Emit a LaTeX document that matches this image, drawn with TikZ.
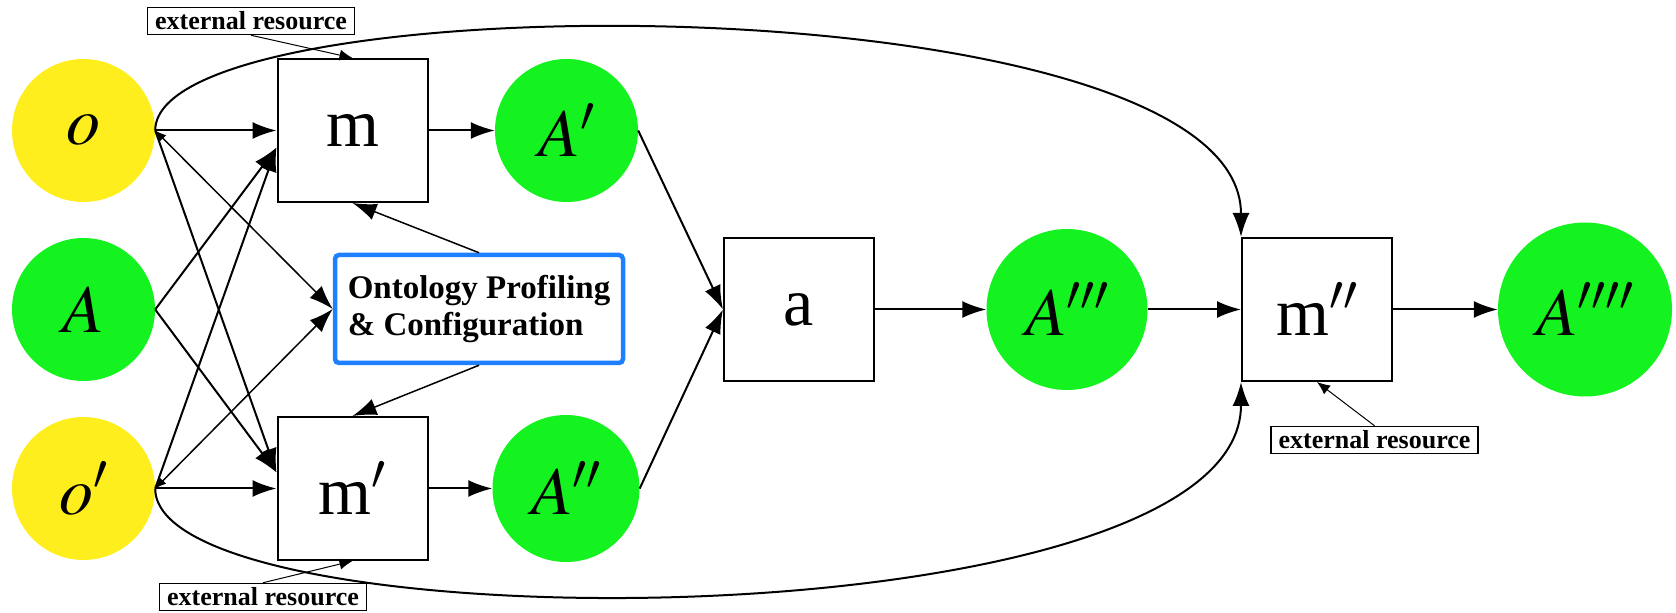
\documentclass[tikz,border=0pt]{standalone}
\usepackage{mathptmx}
\usepackage{fontspec}
\setmainfont{Liberation Serif}
\usetikzlibrary{arrows.meta}

\definecolor{oyellow}{RGB}{255,238,30}
\definecolor{agreen}{RGB}{20,242,32}
\definecolor{pblue}{RGB}{30,128,255}

\tikzset{
  ontol/.style={circle, inner sep=0pt, minimum size=143pt, font=\fontsize{68}{72}\selectfont},
  srcont/.style={ontol, fill=oyellow},
  algn/.style={ontol, fill=agreen},
  proc/.style={draw, line width=2pt, minimum width=150pt, minimum height=143pt, inner sep=0pt,
    font=\fontsize{68}{72}\selectfont},
  extres/.style={draw, line width=1.5pt, inner sep=1pt, minimum width=207pt, minimum height=27pt,
    font=\fontsize{26}{28}\selectfont\bfseries},
  profile/.style={draw=pblue, line width=4.5pt, rounded corners=4pt, minimum width=288pt,
    minimum height=108pt, inner sep=4pt, align=left, font=\fontsize{33}{37}\selectfont\bfseries},
  flow/.style={-{Latex[length=24pt,width=17pt]}, line width=2pt},
  mutual/.style={{Latex[length=11pt,width=9pt]}-{Latex[length=24pt,width=17pt]}, line width=1.5pt},
  reslink/.style={-{Latex[length=13pt,width=11pt]}, line width=1pt}
}

\begin{document}
\begin{tikzpicture}[x=1pt, y=1pt]
  \useasboundingbox (0,0) rectangle (1676,613);

  % Inputs
  \node[srcont] (o) at (83.5,482.5) {$o$};
  \node[algn] (A) at (83.5,303.5) {$A$};
  \node[srcont] (o2) at (83.5,124.5) {$o'$};

  % First matchers
  \node[proc] (m) at (352.5,482.5) {m};
  \node[proc] (m2) at (352.5,124.5) {m$'$};
  \node[profile] (prof) at (479,304) {Ontology Profiling\\\& Configuration};
  \node[algn] (A1) at (566.5,482.5) {$A'$};
  \node[algn, minimum size=147pt] (A2) at (566,124.5) {$A''$};

  % Aggregation, last matcher
  \node[proc] (agg) at (799,303.5) {a};
  \node[algn, minimum size=161pt] (A3) at (1067,303.5) {$A'''$};
  \node[proc] (m3) at (1317,303.5) {m$''$};
  \node[algn, minimum size=174pt] (A4) at (1585,303.5) {$A''''$};

  % External resources
  \node[extres] (ext1) at (251,592) {external resource};
  \node[extres] (ext2) at (263,16) {external resource};
  \node[extres] (ext3) at (1374.5,173) {external resource};

  \draw[flow] (o.east) -- (m.west);
  \draw[flow] (A.east) -- ([yshift=-17pt]m.west);
  \draw[flow] (o2.east) -- ([yshift=-17pt]m.west);
  \draw[flow] (o2.east) -- (m2.west);
  \draw[flow] (A.east) -- ([yshift=16pt]m2.west);
  \draw[flow] (o.east) -- ([yshift=16pt]m2.west);
  \draw[mutual] (o.east) -- (prof.west);
  \draw[mutual] (o2.east) -- (prof.west);
  \draw[flow, line width=1.5pt] (prof.north) -- (m.south);
  \draw[flow, line width=1.5pt] (prof.south) -- (m2.north);

  \draw[flow] (m) -- (A1);
  \draw[flow] (m2) -- (A2);
  \draw[flow] (A1.east) -- (agg.west);
  \draw[flow] (A2.east) -- (agg.west);
  \draw[flow] (agg) -- (A3);
  \draw[flow] (A3) -- (m3);
  \draw[flow] (m3) -- (A4);

  % Long arcs into m''
  \draw[flow] (o.east) .. controls +(0,151) and +(0,258) .. (m3.north west);
  \draw[flow] (o2.east) .. controls +(0,-158) and +(0,-264) .. (m3.south west);

  \draw[reslink] (ext1.south) -- (m.north);
  \draw[reslink] (ext2.north) -- (m2.south);
  \draw[reslink] (ext3.north) -- (m3.south);
\end{tikzpicture}
\end{document}
